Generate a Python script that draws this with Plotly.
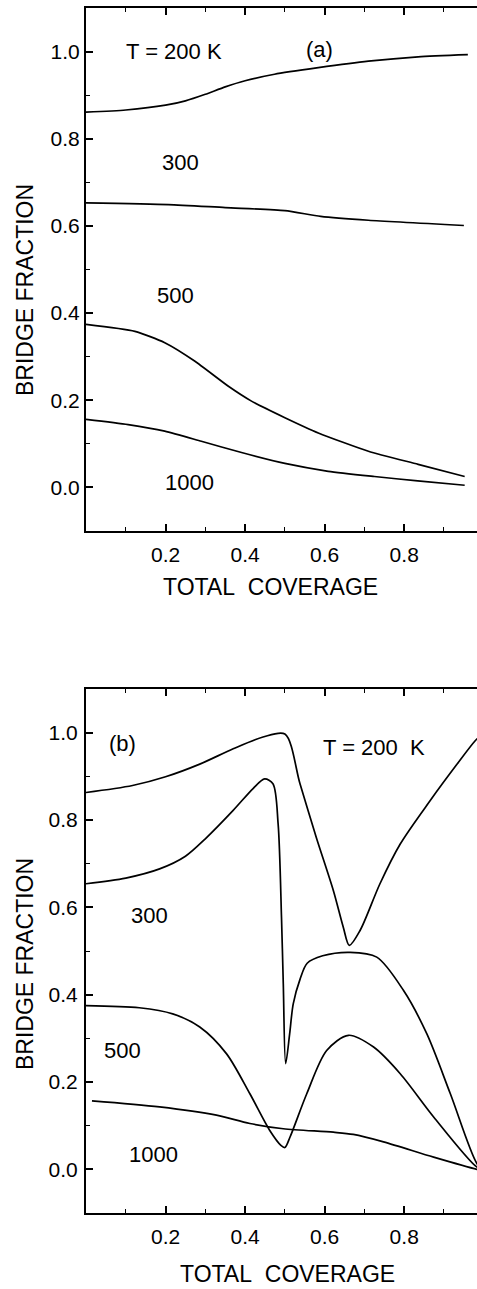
import plotly.graph_objects as go

# ---------------- data: panel (a) ----------------
a200_x = [0.0, 0.10, 0.20, 0.25, 0.30, 0.35, 0.40, 0.474, 0.584, 0.71, 0.835, 0.96]
a200_y = [0.861, 0.866, 0.877, 0.887, 0.902, 0.919, 0.933, 0.948, 0.963, 0.978, 0.988, 0.993]
a300_x = [0.0, 0.207, 0.35, 0.50, 0.59, 0.71, 0.95]
a300_y = [0.653, 0.649, 0.642, 0.635, 0.622, 0.613, 0.601]
a500_x = [0.0, 0.123, 0.198, 0.273, 0.358, 0.416, 0.50, 0.584, 0.71, 0.835, 0.952]
a500_y = [0.374, 0.358, 0.332, 0.29, 0.232, 0.198, 0.16, 0.125, 0.083, 0.053, 0.025]
a1000_x = [0.0, 0.106, 0.198, 0.29, 0.391, 0.50, 0.609, 0.725, 0.834, 0.952]
a1000_y = [0.156, 0.144, 0.129, 0.106, 0.08, 0.055, 0.037, 0.025, 0.015, 0.005]

# ---------------- data: panel (b) ----------------
b200_x = [0.0, 0.117, 0.20, 0.286, 0.37, 0.445, 0.50, 0.538, 0.579, 0.622, 0.647, 0.662,
          0.689, 0.739, 0.79, 0.865, 0.933, 0.979, 1.0]
b200_y = [0.863, 0.879, 0.899, 0.928, 0.963, 0.99, 0.997, 0.883, 0.76, 0.638, 0.554, 0.513,
          0.547, 0.654, 0.745, 0.844, 0.928, 0.982, 1.0]
b300_x = [0.0, 0.10, 0.185, 0.25, 0.30, 0.37, 0.42, 0.449, 0.47, 0.483, 0.4915, 0.496,
          0.502, 0.512, 0.521, 0.538, 0.556, 0.595, 0.664, 0.731, 0.798, 0.857, 0.916, 0.983, 1.0]
b300_y = [0.654, 0.667, 0.688, 0.717, 0.757, 0.822, 0.872, 0.894, 0.883, 0.791, 0.577, 0.425,
          0.242, 0.31, 0.379, 0.435, 0.472, 0.489, 0.497, 0.486, 0.41, 0.31, 0.173, 0.013, 0.0]
b500_x = [0.0, 0.134, 0.218, 0.286, 0.353, 0.412, 0.462, 0.49, 0.50, 0.513, 0.555, 0.605,
          0.66, 0.723, 0.79, 0.874, 0.983, 1.0]
b500_y = [0.375, 0.37, 0.356, 0.326, 0.265, 0.173, 0.089, 0.055, 0.05, 0.074, 0.173, 0.272,
          0.307, 0.28, 0.219, 0.12, 0.005, 0.0]
b1000_x = [0.015, 0.185, 0.328, 0.412, 0.496, 0.622, 0.672, 0.748, 0.874, 0.983, 1.0]
b1000_y = [0.157, 0.143, 0.124, 0.105, 0.093, 0.085, 0.08, 0.063, 0.028, 0.0, -0.003]

x_ticks = [0.2, 0.4, 0.6, 0.8]
y_ticks = [0.0, 0.2, 0.4, 0.6, 0.8, 1.0]

W, H = 477, 1289
ML = 86
PW = W - ML
FONT = "Liberation Sans, Arial, Helvetica, sans-serif"

fig = go.Figure()
for xs, ys in [(a200_x, a200_y), (a300_x, a300_y), (a500_x, a500_y), (a1000_x, a1000_y)]:
    fig.add_trace(go.Scatter(x=xs, y=ys, mode="lines",
                             line=dict(color="black", width=1.7, shape="spline", smoothing=0.6),
                             xaxis="x", yaxis="y", showlegend=False, hoverinfo="skip"))
for xs, ys in [(b200_x, b200_y), (b300_x, b300_y), (b500_x, b500_y), (b1000_x, b1000_y)]:
    fig.add_trace(go.Scatter(x=xs, y=ys, mode="lines",
                             line=dict(color="black", width=1.7, shape="spline", smoothing=0.85),
                             xaxis="x2", yaxis="y2", showlegend=False, hoverinfo="skip"))

def xax(anchor):
    return dict(domain=[0, 1], anchor=anchor, range=[0, 0.983], tickmode="array", tickvals=x_ticks,
                ticktext=[f"{v:.1f}" for v in x_ticks], ticks="inside", ticklen=7, tickwidth=1.5,
                tickcolor="black", showline=True, linecolor="black", linewidth=2, mirror="ticks",
                showgrid=False, zeroline=False, ticklabelstandoff=4,
                tickfont=dict(family=FONT, size=21, color="black"),
                minor=dict(tickmode="linear", tick0=0, dtick=0.1, ticks="inside", ticklen=4,
                           tickwidth=1.2, tickcolor="black", showgrid=False))

def yax(anchor, dom, standoff):
    return dict(domain=dom, anchor=anchor, range=[-0.1, 1.1], tickmode="array", tickvals=y_ticks,
                ticktext=[f"{v:.1f}" for v in y_ticks], ticks="inside", ticklen=7, tickwidth=1.5,
                tickcolor="black", showline=True, linecolor="black", linewidth=2, mirror=False,
                showgrid=False, zeroline=False, ticklabelstandoff=standoff,
                tickfont=dict(family=FONT, size=21, color="black"),
                minor=dict(tickmode="linear", tick0=0, dtick=0.1, ticks="inside", ticklen=4,
                           tickwidth=1.2, tickcolor="black", showgrid=False))

def py(v):
    return 1 - v / H

def px(v):
    return (v - ML) / PW

fig.update_layout(
    width=W, height=H, margin=dict(l=ML, r=0, t=0, b=0),
    paper_bgcolor="white", plot_bgcolor="white",
    font=dict(family=FONT, color="black"),
    xaxis=xax("y"), yaxis=yax("x", [py(531), py(8)], 0),
    xaxis2=xax("y2"), yaxis2=yax("x2", [py(1213), py(689)], 2),
)

ann_font = dict(family=FONT, size=22, color="black")
labels = [
    ("x", "y", 0.221, 1.0, "T = 200 K"),
    ("x", "y", 0.587, 1.005, "(a)"),
    ("x", "y", 0.237, 0.745, "300"),
    ("x", "y", 0.224, 0.44, "500"),
    ("x", "y", 0.261, 0.012, "1000"),
    ("x2", "y2", 0.093, 0.975, "(b)"),
    ("x2", "y2", 0.723, 0.967, "T = 200\u00a0\u00a0K"),
    ("x2", "y2", 0.16, 0.581, "300"),
    ("x2", "y2", 0.093, 0.272, "500"),
    ("x2", "y2", 0.17, 0.034, "1000"),
]
for xr, yr, x, y, t in labels:
    fig.add_annotation(xref=xr, yref=yr, x=x, y=y, text=t, showarrow=False,
                       xanchor="center", yanchor="middle", font=ann_font)

title_font = dict(family=FONT, size=23, color="black")
for cx, cy in [(270, 587), (287, 1274)]:
    fig.add_annotation(xref="paper", yref="paper", x=px(cx), y=py(cy), text="TOTAL\u00a0\u00a0COVERAGE",
                       showarrow=False, xanchor="center", yanchor="middle", font=title_font)
for cx, cy in [(25, 290), (25, 964)]:
    fig.add_annotation(xref="paper", yref="paper", x=px(cx), y=py(cy),
                       text="BRIDGE\u00a0FRACTION",
                       showarrow=False, xanchor="center", yanchor="middle", textangle=-90, font=title_font)

fig.write_html("out.html")
